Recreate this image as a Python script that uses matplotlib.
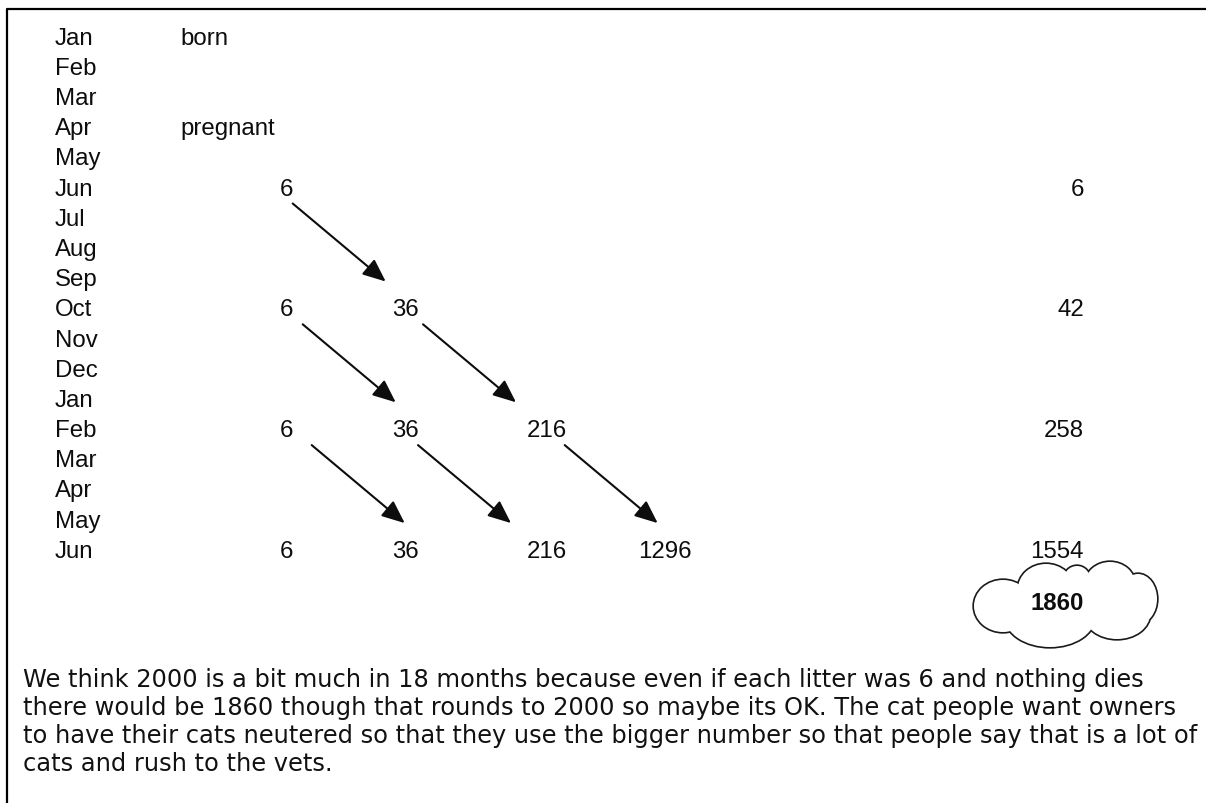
import matplotlib
matplotlib.use("Agg")
import matplotlib.pyplot as plt
from matplotlib.patches import FancyArrowPatch, Ellipse
from matplotlib.lines import Line2D

# ---------------- data ----------------
months = ["Jan", "Feb", "Mar", "Apr", "May", "Jun", "Jul", "Aug", "Sep",
          "Oct", "Nov", "Dec", "Jan", "Feb", "Mar", "Apr", "May", "Jun"]
notes_rows = [0, 3]
notes_text = ["born", "pregnant"]
litter_rows = [5, 9, 13, 17]                 # month index where litters appear
litter_values = [[6], [6, 36], [6, 36, 216], [6, 36, 216, 1296]]
row_totals = [6, 42, 258, 1554]
grand_total = 1860
paragraph = [
    "We think 2000 is a bit much in 18 months because even if each litter was 6 and nothing dies",
    "there would be 1860 though that rounds to 2000 so maybe its OK. The cat people want owners",
    "to have their cats neutered so that they use the bigger number so that people say that is a lot of",
    "cats and rush to the vets.",
]

# ---------------- layout ----------------
W, H = 1206, 804
ROW0, ROWH = 44.5, 30.2                      # baseline of first row (px) and row pitch (px)
def row_of(px):
    return (px - ROW0) / ROWH

MONTH_X = 55
NOTE_X = 180
COL_X = [286.7, 405, 546.7, 665]
TOTAL_X = 1084
ARROW_NUDGE = [6, 16, 18, 25, 13, 18]        # hand-drawn start offsets (px)
ARROW_VEC = (93, 78)                          # px
ARROW_START_DY = 9                            # px below baseline
INK = "#0d0d0d"

fig = plt.figure(figsize=(W / 100, H / 100), dpi=100)
ax = fig.add_axes([0, 0, 1, 1])
ax.set_xlim(0, W)
ax.set_ylim(row_of(H), row_of(0))
ax.axis("off")

FONT = "Liberation Sans"
FS = 17.3

for i, m in enumerate(months):
    ax.text(MONTH_X, i, m, ha="left", va="baseline", fontsize=FS, family=FONT, color=INK)
for r, t in zip(notes_rows, notes_text):
    ax.text(NOTE_X, r, t, ha="left", va="baseline", fontsize=FS, family=FONT, color=INK)

for r, vals, tot in zip(litter_rows, litter_values, row_totals):
    for j, v in enumerate(vals):
        ax.text(COL_X[j], r, str(v), ha="center", va="baseline", fontsize=FS, family=FONT, color=INK)
    ax.text(TOTAL_X, r, str(tot), ha="right", va="baseline", fontsize=FS, family=FONT, color=INK)

# arrows: generation j at one litter row -> generation j+1 at the next litter row
k_arrow = 0
for k in range(1, len(litter_rows)):
    for j in range(len(litter_values[k - 1])):
        x0 = COL_X[j] + ARROW_NUDGE[k_arrow]
        y0 = litter_rows[k - 1] + ARROW_START_DY / ROWH
        x1 = x0 + ARROW_VEC[0]
        y1 = y0 + ARROW_VEC[1] / ROWH
        ax.add_patch(FancyArrowPatch((x0, y0), (x1, y1),
                                     arrowstyle="-|>,head_length=1.4,head_width=0.6",
                                     mutation_scale=10, lw=1.5, color=INK,
                                     shrinkA=0, shrinkB=0))
        k_arrow += 1

# cloud around the grand total (union of ellipse lobes, px units)
cloud = [(1003, 607, 58, 52), (1050, 618, 90, 60), (1117, 615, 66, 50),
         (1138, 600, 38, 50), (1110, 585, 50, 44), (1077, 580, 26, 26),
         (1046, 590, 56, 50)]
for cx, cy, w, h in cloud:
    ax.add_patch(Ellipse((cx, row_of(cy)), w, h / ROWH, facecolor="white",
                         edgecolor="#1a1a1a", lw=2.4, zorder=3))
for cx, cy, w, h in cloud:
    ax.add_patch(Ellipse((cx, row_of(cy)), w, h / ROWH, facecolor="white",
                         edgecolor="none", zorder=4))
ax.add_patch(Ellipse((1068, row_of(606)), 130, 46 / ROWH, facecolor="white", edgecolor="none", zorder=4))
ax.text(1057, row_of(610), str(grand_total), ha="center", va="baseline", fontsize=FS,
        family=FONT, fontweight="bold", color=INK, zorder=5)

# paragraph (Verdana-like)
PX0 = 22.7
base = [687, 715, 743, 771]
renderer = fig.canvas.get_renderer()
probe = ax.text(0, 0, paragraph[2], fontsize=10, family="DejaVu Sans")
wpx = probe.get_window_extent(renderer).width
probe.remove()
pfs = 10 * (1197 - PX0) / wpx
for b, line in zip(base, paragraph):
    ax.text(PX0, row_of(b), line, ha="left", va="baseline", fontsize=pfs,
            family="DejaVu Sans", color="#111111")

# border (top and left)
fig.add_artist(Line2D([7 / W, 7 / W, 1.0], [0, 1 - 10 / H, 1 - 10 / H],
                      transform=fig.transFigure, lw=1.6, color="black"))

fig.savefig("out.png", dpi=100)
